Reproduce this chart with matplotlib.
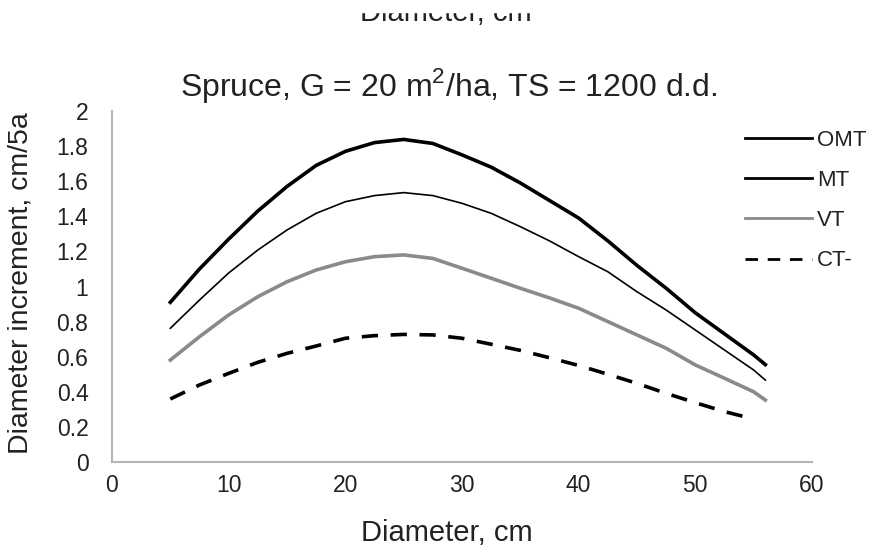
import numpy as np
import matplotlib
matplotlib.use('Agg')
import matplotlib.pyplot as plt
from matplotlib.patches import Rectangle

plt.rcParams['font.family'] = ['Liberation Sans', 'DejaVu Sans']
plt.rcParams['mathtext.fontset'] = 'custom'
plt.rcParams['mathtext.rm'] = 'Liberation Sans'

# diameter, cm
d = [5, 7.5, 10, 12.5, 15, 17.5, 20, 22.5, 25, 27.5, 30, 32.5, 35, 37.5, 40, 42.5, 45, 47.5, 50, 52.5, 55, 56]
omt = [0.91, 1.10, 1.27, 1.43, 1.57, 1.69, 1.77, 1.82, 1.838, 1.815, 1.75, 1.68, 1.59, 1.49, 1.39,
       1.26, 1.12, 0.99, 0.85, 0.73, 0.61, 0.555]
mt = [0.762, 0.923, 1.077, 1.208, 1.322, 1.417, 1.483, 1.518, 1.535, 1.518, 1.474, 1.417, 1.341, 1.26,
      1.17, 1.084, 0.97, 0.866, 0.752, 0.638, 0.524, 0.467]
vt = [0.581, 0.714, 0.838, 0.942, 1.027, 1.094, 1.141, 1.17, 1.18, 1.16, 1.104, 1.047, 0.99, 0.935,
      0.876, 0.80, 0.724, 0.648, 0.553, 0.477, 0.40, 0.353]
d_ct = [5, 7.5, 10, 12.5, 15, 17.5, 20, 22.5, 25, 27.5, 30, 32.5, 35, 37.5, 40, 42.5, 45, 47.5, 50, 52.5, 55]
ct = [0.359, 0.439, 0.505, 0.568, 0.619, 0.661, 0.705, 0.72, 0.727, 0.724, 0.705, 0.671, 0.636, 0.594,
      0.55, 0.50, 0.448, 0.391, 0.338, 0.287, 0.245]

fig = plt.figure(figsize=(8.73, 5.49), dpi=100)
ax = fig.add_axes([112/873, 1-462/549, 700/873, 351/549])

ax.plot(d, omt, color='black', lw=2.6, label='OMT')
ax.plot(d, mt, color='black', lw=1.2, label='MT')
ax.plot(d, vt, color='#8a8a8a', lw=2.6, label='VT')
ax.plot(d_ct, ct, color='black', lw=2.6, dashes=(4.5, 3.5), label='CT-')

ax.set_xlim(0, 60)
ax.set_ylim(0, 2)
ax.set_xticks(np.arange(0, 61, 10))
ax.set_yticks(np.arange(0, 2.01, 0.2))
ax.set_yticklabels(['0', '0.2', '0.4', '0.6', '0.8', '1', '1.2', '1.4', '1.6', '1.8', '2'])
ax.tick_params(length=0, labelsize=16.5, colors='#222222')
ax.tick_params(axis='y', pad=17)
ax.tick_params(axis='x', pad=9)
for s in ['top', 'right']:
    ax.spines[s].set_visible(False)
for s in ['left', 'bottom']:
    ax.spines[s].set_color('#b5b5b5')
    ax.spines[s].set_linewidth(1.5)

ax.set_title('Spruce, G = 20 m$^\\mathrm{2}$/ha, TS = 1200 d.d.', fontsize=23, color='#222222', pad=11, x=0.481)
ax.set_xlabel('Diameter, cm', fontsize=21, color='#222222')
ax.xaxis.set_label_coords(0.478, -0.163)
ax.set_ylabel('Diameter increment, cm/5a', fontsize=20.5, color='#222222')
ax.yaxis.set_label_coords(-0.112, 0.51)

leg = ax.legend(loc='upper left', bbox_to_anchor=(745/873, 1-130/549), bbox_transform=fig.transFigure,
                frameon=False, fontsize=16, handlelength=3.0, handletextpad=0.25, labelspacing=0.86,
                borderpad=0, borderaxespad=0)
for t in leg.get_texts():
    t.set_color('#222222')
for h in leg.get_lines():
    h.set_linewidth(2.0)

# cut-off label at top edge
fig.text(446/873, 1-21/549, 'Diameter, cm', fontsize=21, color='#222222', ha='center', va='baseline')
fig.add_artist(Rectangle((0, 1-12/549), 1, 12/549, transform=fig.transFigure, color='white', zorder=20))

fig.savefig('out.png', dpi=100)
